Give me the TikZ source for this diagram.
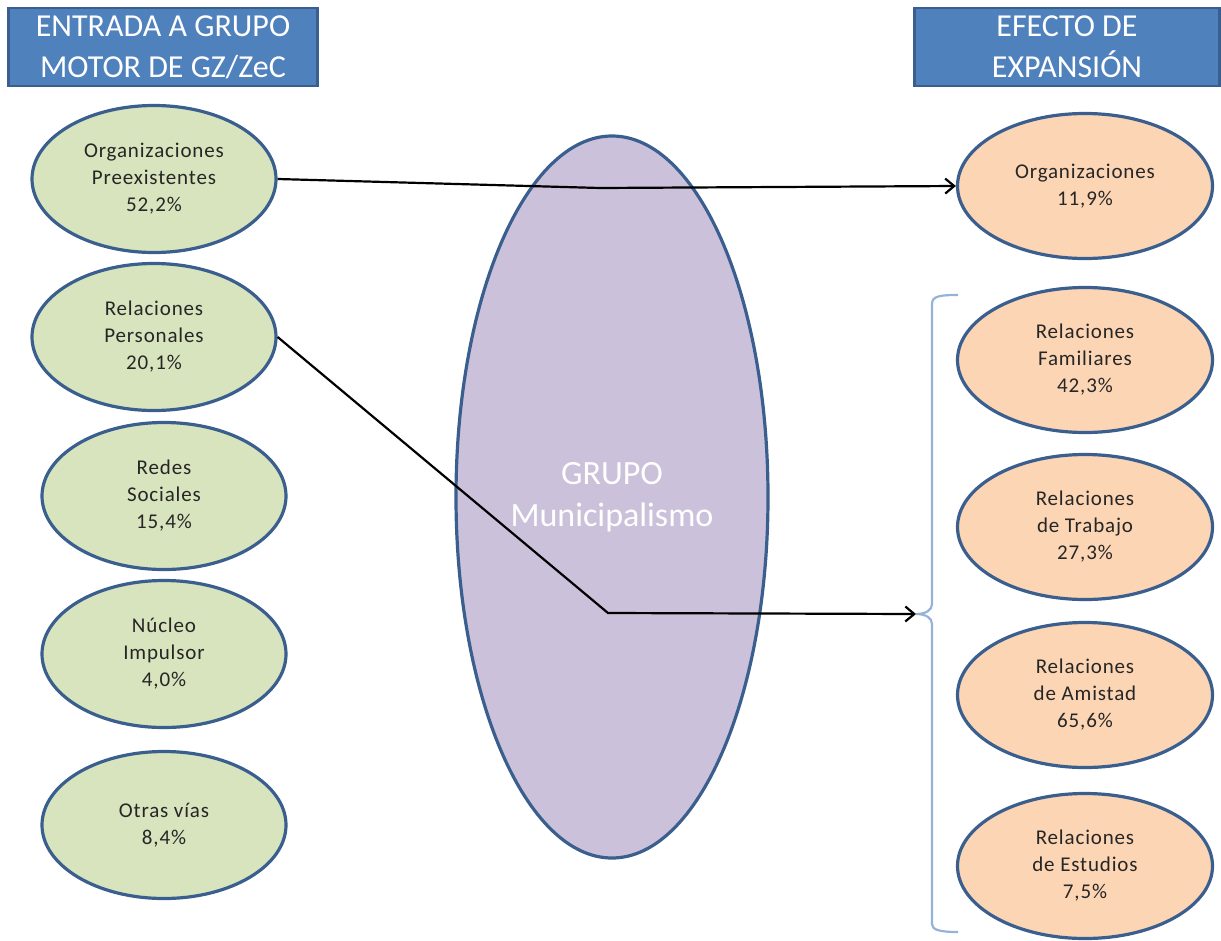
\documentclass[tikz,border=0pt]{standalone}
\usepackage{fontspec}
\setmainfont{Carlito}
\usepackage{tikz}
\usetikzlibrary{shapes.geometric,arrows.meta}
\definecolor{titleblue}{HTML}{4F81BD}
\definecolor{edgeblue}{HTML}{3A5F8E}
\definecolor{entrygreen}{HTML}{D7E4BD}
\definecolor{effectorange}{HTML}{FCD5B5}
\definecolor{grouppurple}{HTML}{CCC1DA}
\definecolor{bracecol}{HTML}{95B3D7}

\begin{document}
\begin{tikzpicture}[x={(1pt,0pt)},y={(0pt,-1pt)},>={Straight Barb[length=9pt,width=15pt,line width=2.2pt]}]
 \tikzstyle{titlebox} = [draw=edgeblue,line width=2.2pt,fill=titleblue,text=white,align=center,minimum height=78pt,inner sep=0,font=\fontsize{32}{41}\selectfont]
 \tikzstyle{entry} = [draw=edgeblue,line width=3.2pt,fill=entrygreen,ellipse,minimum width=244pt,minimum height=147pt,inner sep=0,align=center,text=black!85,font=\fontsize{21}{27}\selectfont\addfontfeatures{LetterSpace=4}]
 \tikzstyle{effect} = [entry,fill=effectorange,minimum width=255pt,minimum height=145pt]
 \tikzstyle{link} = [black,line width=2.2pt]
 \useasboundingbox (0,0) rectangle (1221,940);

% Titles
 \node[titlebox,minimum width=309pt] (tin) at (163,47) {ENTRADA A GRUPO\\MOTOR DE GZ/ZeC};
 \node[titlebox,minimum width=305pt] (tout) at (1067,47) {EFECTO DE\\EXPANSIÓN};

% Group
 \node[draw=edgeblue,line width=3.2pt,fill=grouppurple,ellipse,minimum width=312pt,minimum height=722pt,inner sep=0,align=center,text=white,font=\fontsize{34}{42}\selectfont] (grp) at (612,497) {GRUPO\\Municipalismo};

% Nodes
 \node[entry] (e1) at (154,179) {Organizaciones\\Preexistentes\\52,2\%};
 \node[entry] (e2) at (154,337) {Relaciones\\Personales\\20,1\%};
 \node[entry] (e3) at (164,496) {Redes\\Sociales\\15,4\%};
 \node[entry] (e4) at (164,654) {Núcleo\\Impulsor\\4,0\%};
 \node[entry] (e5) at (164,825) {Otras vías\\8,4\%};

 \node[effect] (r1) at (1085,186) {Organizaciones\\11,9\%};
 \node[effect] (r2) at (1085,360) {Relaciones\\Familiares\\42,3\%};
 \node[effect] (r3) at (1085,527) {Relaciones\\de Trabajo\\27,3\%};
 \node[effect] (r4) at (1085,695) {Relaciones\\de Amistad\\65,6\%};
 \node[effect] (r5) at (1085,866) {Relaciones\\de Estudios\\7,5\%};

% Brace
 \coordinate (tip) at (916,614);
 \draw[bracecol,line width=2.2pt] (958,295) .. controls (940,295) and (932,296) .. (932,304)
   -- (932,604) .. controls (932,610) and (926,614) .. (tip)
   .. controls (926,614) and (932,618) .. (932,624)
   -- (932,924) .. controls (932,930) and (940,932) .. (958,932);

% Links
 \coordinate (k1) at (600,188);
 \coordinate (k2) at (608,613);
 \draw[link,->] (e1.east) -- (k1) -- (r1.west);
 \draw[link,->] (e2.east) -- (k2) -- (tip);

\end{tikzpicture}
\end{document}
